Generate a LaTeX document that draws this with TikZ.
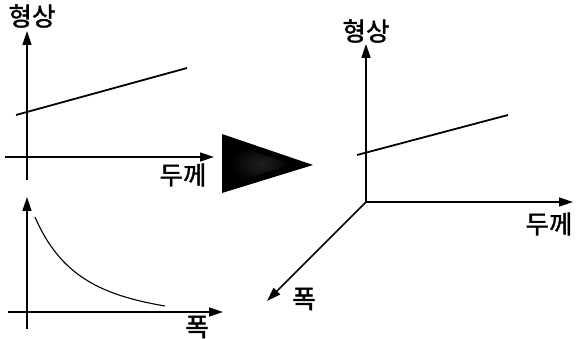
\documentclass[tikz,border=0pt]{standalone}
\usepackage{fontspec}
\newfontfamily\kr{Noto Sans CJK KR}[BoldFont={Noto Sans CJK KR},BoldFeatures={FakeBold=1.6}]
\usetikzlibrary{arrows.meta}
\tikzset{
  axis/.style={line width=1.6pt,-{Triangle[length=14pt,width=9pt]}},
  dataline/.style={line width=1.8pt},
  datacurve/.style={line width=1.1pt},
  lbl/.style={font=\kr\bfseries\fontsize{25.5}{25.5}\selectfont,inner sep=0pt}
}
\begin{document}
\begin{tikzpicture}[x=1pt,y=-1pt]
\useasboundingbox (0,0) rectangle (576,339);
% top-left graph
\coordinate (a1s) at (27,180);
\coordinate (a1e) at (27,31);
\coordinate (b1s) at (5,157);
\coordinate (b1e) at (214,157);
\draw[axis] (a1s) -- (a1e);
\draw[axis] (b1s) -- (b1e);
\coordinate (l1s) at (16,115);
\coordinate (l1e) at (187,68);
\draw[dataline] (l1s) -- (l1e);
\node[lbl] (t1) at (32,16) {형상};
\node[lbl] (t2) at (183,175) {두께};
% bottom-left graph
\coordinate (a2s) at (27,329);
\coordinate (a2e) at (27,197);
\coordinate (b2s) at (8,312);
\coordinate (b2e) at (223,312);
\draw[axis] (a2s) -- (a2e);
\draw[axis] (b2s) -- (b2e);
\coordinate (c2s) at (35,217);
\coordinate (c2e) at (165,306);
\draw[datacurve] (c2s) .. controls (60,275) and (100,295) .. (c2e);
\node[lbl] (t3) at (197,327) {폭};
% big triangle
\fill[black] (222,134) -- (222,193) -- (313,165) -- cycle;
\shade[inner color=black!88,outer color=black] (230,144) -- (230,184) -- (292,164) -- cycle;
% right 3D graph
\coordinate (o) at (366,202);
\coordinate (zE) at (366,44);
\coordinate (xE) at (573,202);
\coordinate (yE) at (267,301);
\draw[axis] (o) -- (zE);
\draw[axis] (o) -- (xE);
\draw[axis] (o) -- (yE);
\coordinate (l2s) at (357,155);
\coordinate (l2e) at (508,115);
\draw[dataline] (l2s) -- (l2e);
\node[lbl] (t4) at (366,31) {형상};
\node[lbl] (t5) at (549,224) {두께};
\node[lbl] (t6) at (304,299) {폭};
\end{tikzpicture}
\end{document}
